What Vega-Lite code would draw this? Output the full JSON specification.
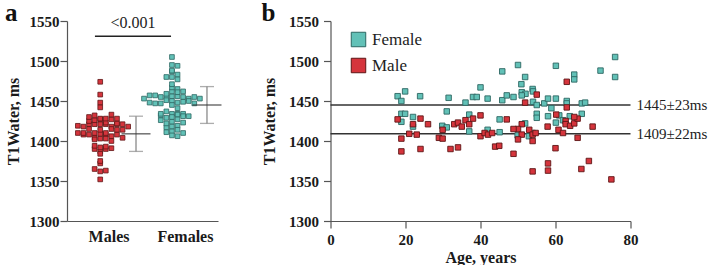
{
  "$schema": "https://vega.github.io/schema/vega-lite/v6.json",
  "padding": {"left": 5, "top": 0, "right": 0, "bottom": 0},
  "background": "white",
  "config": {
    "view": {"stroke": null},
    "font": "Liberation Serif",
    "axis": {
      "labelFont": "Liberation Serif", "labelFontWeight": "bold", "labelFontSize": 15, "labelColor": "#1a1a1a",
      "titleFont": "Liberation Serif", "titleFontWeight": "bold", "titleFontSize": 16, "titleColor": "#1a1a1a",
      "domainColor": "#555555", "tickColor": "#555555", "domainWidth": 1.2, "tickWidth": 1.2, "grid": false, "tickSize": 7,
      "labelOverlap": false, "format": "d"
    },
    "title": {"font": "Liberation Serif", "fontSize": 25, "fontWeight": "bold", "anchor": "start", "frame": "bounds", "color": "#111111", "baseline": "alphabetic", "offset": -11.5}
  },
  "resolve": {"scale": {"fill": "independent", "stroke": "independent"}, "legend": {"fill": "independent", "stroke": "independent"}},
  "datasets": {
    "pts": [
      {"sex":"Female","age":17.9,"t1":1456},{"sex":"Female","age":19.9,"t1":1462},{"sex":"Female","age":18.9,"t1":1450},{"sex":"Female","age":23.9,"t1":1456},
      {"sex":"Female","age":18.9,"t1":1434},{"sex":"Female","age":19.9,"t1":1434},{"sex":"Female","age":18.9,"t1":1424},{"sex":"Female","age":22.0,"t1":1430},
      {"sex":"Female","age":22.0,"t1":1418},{"sex":"Female","age":29.8,"t1":1419},{"sex":"Female","age":31.0,"t1":1417},{"sex":"Female","age":31.0,"t1":1437},
      {"sex":"Female","age":31.5,"t1":1454},{"sex":"Female","age":36.0,"t1":1448},{"sex":"Female","age":37.0,"t1":1433},{"sex":"Female","age":38.0,"t1":1455},
      {"sex":"Female","age":39.0,"t1":1455},{"sex":"Female","age":37.0,"t1":1412},{"sex":"Female","age":40.0,"t1":1467},{"sex":"Female","age":41.9,"t1":1453},
      {"sex":"Female","age":45.8,"t1":1487},{"sex":"Female","age":45.8,"t1":1451},{"sex":"Female","age":45.1,"t1":1427},{"sex":"Female","age":41.9,"t1":1414},
      {"sex":"Female","age":45.1,"t1":1411},{"sex":"Female","age":50.0,"t1":1495},{"sex":"Female","age":60.1,"t1":1494},{"sex":"Female","age":51.9,"t1":1480},
      {"sex":"Female","age":50.9,"t1":1471},{"sex":"Female","age":53.9,"t1":1465},{"sex":"Female","age":54.0,"t1":1462},{"sex":"Female","age":51.0,"t1":1461},
      {"sex":"Female","age":52.0,"t1":1459},{"sex":"Female","age":51.0,"t1":1457},{"sex":"Female","age":47.0,"t1":1457},{"sex":"Female","age":48.8,"t1":1455},
      {"sex":"Female","age":54.0,"t1":1449},{"sex":"Female","age":55.0,"t1":1445},{"sex":"Female","age":57.0,"t1":1447},{"sex":"Female","age":58.0,"t1":1453},
      {"sex":"Female","age":60.1,"t1":1453},{"sex":"Female","age":58.9,"t1":1441},{"sex":"Female","age":55.0,"t1":1434},{"sex":"Female","age":55.0,"t1":1429},
      {"sex":"Female","age":58.0,"t1":1431},{"sex":"Female","age":60.1,"t1":1423},{"sex":"Female","age":51.9,"t1":1422},{"sex":"Female","age":49.9,"t1":1407},
      {"sex":"Female","age":52.9,"t1":1406},{"sex":"Female","age":53.9,"t1":1410},{"sex":"Female","age":75.9,"t1":1505},{"sex":"Female","age":72.0,"t1":1488},
      {"sex":"Female","age":75.9,"t1":1480},{"sex":"Female","age":65.0,"t1":1483},{"sex":"Female","age":65.0,"t1":1477},{"sex":"Female","age":63.0,"t1":1450},
      {"sex":"Female","age":63.0,"t1":1447},{"sex":"Female","age":67.0,"t1":1447},{"sex":"Female","age":67.9,"t1":1448},{"sex":"Female","age":61.0,"t1":1432},
      {"sex":"Female","age":62.0,"t1":1426},{"sex":"Female","age":63.8,"t1":1431},{"sex":"Female","age":67.0,"t1":1434},
      {"sex":"Male","age":17.9,"t1":1427},{"sex":"Male","age":18.9,"t1":1403},{"sex":"Male","age":18.9,"t1":1387},{"sex":"Male","age":22.0,"t1":1421},
      {"sex":"Male","age":21.0,"t1":1409},{"sex":"Male","age":23.0,"t1":1408},{"sex":"Male","age":24.0,"t1":1428},{"sex":"Male","age":24.0,"t1":1390},
      {"sex":"Male","age":26.0,"t1":1421},{"sex":"Male","age":28.9,"t1":1404},{"sex":"Male","age":29.9,"t1":1403},{"sex":"Male","age":29.9,"t1":1414},
      {"sex":"Male","age":32.0,"t1":1390},{"sex":"Male","age":34.0,"t1":1392},{"sex":"Male","age":33.0,"t1":1421},{"sex":"Male","age":34.0,"t1":1423},
      {"sex":"Male","age":35.0,"t1":1418},{"sex":"Male","age":36.0,"t1":1426},{"sex":"Male","age":37.0,"t1":1421},{"sex":"Male","age":38.0,"t1":1428},
      {"sex":"Male","age":40.0,"t1":1432},{"sex":"Male","age":40.0,"t1":1406},{"sex":"Male","age":41.1,"t1":1410},{"sex":"Male","age":42.0,"t1":1408},
      {"sex":"Male","age":43.1,"t1":1410},{"sex":"Male","age":43.9,"t1":1393},{"sex":"Male","age":45.0,"t1":1394},{"sex":"Male","age":47.0,"t1":1427},
      {"sex":"Male","age":51.9,"t1":1448},{"sex":"Male","age":55.0,"t1":1458},{"sex":"Male","age":60.2,"t1":1433},{"sex":"Male","age":51.0,"t1":1421},
      {"sex":"Male","age":50.0,"t1":1415},{"sex":"Male","age":48.8,"t1":1415},{"sex":"Male","age":51.0,"t1":1408},{"sex":"Male","age":53.0,"t1":1414},
      {"sex":"Male","age":53.9,"t1":1408},{"sex":"Male","age":54.7,"t1":1410},{"sex":"Male","age":50.0,"t1":1402},{"sex":"Male","age":53.9,"t1":1400},
      {"sex":"Male","age":57.9,"t1":1418},{"sex":"Male","age":60.8,"t1":1414},{"sex":"Male","age":60.0,"t1":1391},{"sex":"Male","age":48.8,"t1":1384},
      {"sex":"Male","age":58.0,"t1":1372},{"sex":"Male","age":58.0,"t1":1363},{"sex":"Male","age":53.9,"t1":1362},{"sex":"Male","age":63.0,"t1":1474},
      {"sex":"Male","age":63.0,"t1":1442},{"sex":"Male","age":62.7,"t1":1425},{"sex":"Male","age":62.7,"t1":1421},{"sex":"Male","age":63.9,"t1":1419},
      {"sex":"Male","age":65.0,"t1":1422},{"sex":"Male","age":65.9,"t1":1428},{"sex":"Male","age":65.0,"t1":1430},{"sex":"Male","age":62.0,"t1":1410},
      {"sex":"Male","age":65.9,"t1":1404},{"sex":"Male","age":69.9,"t1":1418},{"sex":"Male","age":66.9,"t1":1365},{"sex":"Male","age":68.9,"t1":1375},
      {"sex":"Male","age":74.9,"t1":1352}
    ],
    "stats": [
      {"sex":"Male","mean":1409,"sd":22,"lo":1387,"hi":1431,"label":"1409±22ms"},
      {"sex":"Female","mean":1445,"sd":23,"lo":1422,"hi":1468,"label":"1445±23ms"}
    ],
    "sig": [{"label": "<0.001"}]
  },
  "spacing": 39.5,
  "hconcat": [
    {
      "title": {"text": "a"},
      "width": 151,
      "height": 200,
      "layer": [
        {
          "data": {"name": "pts"},
          "transform": [
            {"bin": {"step": 6}, "field": "t1", "as": "b"},
            {"window": [{"op": "row_number", "as": "r"}], "groupby": ["sex", "b"], "sort": [{"field": "age"}]},
            {"calculate": "(datum.sex === 'Male' ? 2.2 : 6.95) + (datum.r % 2 === 0 ? 1 : -1) * floor(datum.r / 2) * 0.37", "as": "xs"}
          ],
          "mark": {"type": "square", "size": 22, "strokeWidth": 0.8, "opacity": 1},
          "encoding": {
            "x": {"field": "xs", "type": "quantitative", "scale": {"domain": [0, 10], "nice": false, "zero": false},
                  "axis": {"values": [2.75, 7.81], "format": "", "labelExpr": "datum.value < 5 ? 'Males' : 'Females'", "ticks": false, "labelFontSize": 16, "labelPadding": 7, "title": null, "labelFlush": false, "labelOverlap": false}},
            "y": {"field": "t1", "type": "quantitative", "scale": {"domain": [1300, 1550], "nice": false, "zero": false},
                  "axis": {"values": [1300, 1350, 1400, 1450, 1500, 1550], "tickCount": 6, "labelOverlap": false, "labelFlush": false, "labelPadding": 1, "title": "T1Water, ms", "titlePadding": 8}},
            "fill": {"field": "sex", "type": "nominal", "scale": {"domain": ["Female", "Male"], "range": ["#62c1b7", "#d5343c"]}, "legend": null},
            "stroke": {"field": "sex", "type": "nominal", "scale": {"domain": ["Female", "Male"], "range": ["#2c6762", "#5e1515"]}, "legend": null}
          }
        },
        {
          "data": {"name": "stats"},
          "transform": [{"calculate": "datum.sex === 'Male' ? 4.57 : 9.27", "as": "xc"}],
          "mark": {"type": "rule", "color": "#8a8a8a", "strokeWidth": 1.3},
          "encoding": {
            "x": {"field": "xc", "type": "quantitative", "scale": {"domain": [0, 10], "nice": false, "zero": false}},
            "y": {"field": "lo", "type": "quantitative", "scale": {"domain": [1300, 1550], "nice": false, "zero": false}},
            "y2": {"field": "hi"}
          }
        },
        {
          "data": {"name": "stats"},
          "transform": [
            {"calculate": "datum.sex === 'Male' ? 4.57 : 9.27", "as": "xc"},
            {"fold": ["lo", "hi"], "as": ["k", "v"]}
          ],
          "mark": {"type": "tick", "orient": "horizontal", "size": 14, "thickness": 1.3, "color": "#8a8a8a"},
          "encoding": {
            "x": {"field": "xc", "type": "quantitative", "scale": {"domain": [0, 10], "nice": false, "zero": false}},
            "y": {"field": "v", "type": "quantitative", "scale": {"domain": [1300, 1550], "nice": false, "zero": false}}
          }
        },
        {
          "data": {"name": "stats"},
          "transform": [{"calculate": "datum.sex === 'Male' ? 4.57 : 9.27", "as": "xc"}],
          "mark": {"type": "tick", "orient": "horizontal", "size": 29, "thickness": 1.5, "color": "#333333"},
          "encoding": {
            "x": {"field": "xc", "type": "quantitative", "scale": {"domain": [0, 10], "nice": false, "zero": false}},
            "y": {"field": "mean", "type": "quantitative", "scale": {"domain": [1300, 1550], "nice": false, "zero": false}}
          }
        },
        {
          "data": {"name": "sig"},
          "mark": {"type": "rule", "color": "#222222", "strokeWidth": 1.4},
          "encoding": {
            "x": {"datum": 1.85, "type": "quantitative", "scale": {"domain": [0, 10], "nice": false, "zero": false}},
            "x2": {"datum": 6.89},
            "y": {"datum": 1531, "type": "quantitative", "scale": {"domain": [1300, 1550], "nice": false, "zero": false}}
          }
        },
        {
          "data": {"name": "sig"},
          "mark": {"type": "text", "font": "Liberation Serif", "fontSize": 16, "color": "#222222", "baseline": "alphabetic", "align": "center", "dy": -8},
          "encoding": {
            "x": {"datum": 4.37, "type": "quantitative", "scale": {"domain": [0, 10], "nice": false, "zero": false}},
            "y": {"datum": 1531, "type": "quantitative", "scale": {"domain": [1300, 1550], "nice": false, "zero": false}},
            "text": {"field": "label"}
          }
        }
      ]
    },
    {
      "title": {"text": "b"},
      "width": 300,
      "height": 200,
      "layer": [
        {
          "data": {"name": "stats"},
          "mark": {"type": "rule", "color": "#333333", "strokeWidth": 1.5},
          "encoding": {
            "x": {"datum": 0, "type": "quantitative", "scale": {"domain": [0, 80], "nice": false, "zero": false}},
            "x2": {"datum": 80},
            "y": {"field": "mean", "type": "quantitative", "scale": {"domain": [1300, 1550], "nice": false, "zero": false}}
          }
        },
        {
          "data": {"name": "stats"},
          "mark": {"type": "text", "font": "Liberation Serif", "fontSize": 15, "color": "#222222", "align": "left", "baseline": "middle", "dx": 6},
          "encoding": {
            "x": {"datum": 80, "type": "quantitative", "scale": {"domain": [0, 80], "nice": false, "zero": false}},
            "y": {"field": "mean", "type": "quantitative", "scale": {"domain": [1300, 1550], "nice": false, "zero": false}},
            "text": {"field": "label"}
          }
        },
        {
          "data": {"name": "pts"},
          "mark": {"type": "square", "size": 30, "strokeWidth": 0.9, "opacity": 1},
          "encoding": {
            "x": {"field": "age", "type": "quantitative", "scale": {"domain": [0, 80], "nice": false, "zero": false},
                  "axis": {"values": [0, 20, 40, 60, 80], "labelPadding": 4, "title": "Age, years", "titlePadding": 2, "labelFlush": false, "labelOverlap": false}},
            "y": {"field": "t1", "type": "quantitative", "scale": {"domain": [1300, 1550], "nice": false, "zero": false},
                  "axis": {"values": [1300, 1350, 1400, 1450, 1500, 1550], "tickCount": 6, "labelOverlap": false, "labelFlush": false, "labelPadding": 5, "title": "T1Water, ms", "titlePadding": 11}},
            "fill": {"field": "sex", "type": "nominal", "scale": {"domain": ["Female", "Male"], "range": ["#62c1b7", "#d5343c"]},
                     "legend": {"orient": "none", "legendX": 19.5, "legendY": 10, "title": null, "symbolType": "square", "symbolSize": 210, "symbolStrokeColor": "#555555", "symbolStrokeWidth": 1, "labelFont": "Liberation Serif", "labelFontSize": 17, "labelColor": "#222222", "labelOffset": 5, "rowPadding": 7, "padding": 0}},
            "stroke": {"field": "sex", "type": "nominal", "scale": {"domain": ["Female", "Male"], "range": ["#2c6762", "#5e1515"]}, "legend": null}
          }
        }
      ]
    }
  ]
}
